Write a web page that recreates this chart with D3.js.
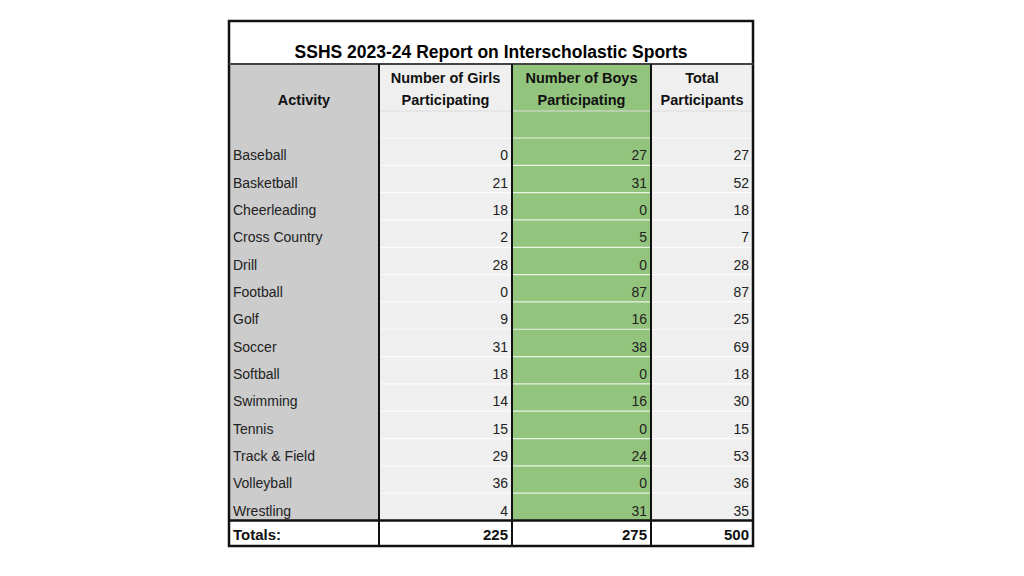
<!DOCTYPE html>
<html><head><meta charset="utf-8">
<script src="https://cdn.jsdelivr.net/npm/d3@7"></script>
<style>body{margin:0;background:#fff}svg{display:block}</style>
</head><body>
<script>
const title = "SSHS 2023-24 Report on Interscholastic Sports";
const headers = [["", "Activity"], ["Number of Girls", "Participating"], ["Number of Boys", "Participating"], ["Total", "Participants"]];
const activities = ["Baseball","Basketball","Cheerleading","Cross Country","Drill","Football","Golf","Soccer","Softball","Swimming","Tennis","Track & Field","Volleyball","Wrestling"];
const girls = [0,21,18,2,28,0,9,31,18,14,15,29,36,4];
const boys = [27,31,0,5,0,87,16,38,0,16,0,24,0,31];
const totals = [27,52,18,7,28,87,25,69,18,30,15,53,36,35];
const totalsRow = ["Totals:", 225, 275, 500];

const W=1024,H=576;
const svg=d3.select("body").append("svg").attr("width",W).attr("height",H);
const font="Liberation Sans, Arial, sans-serif";
const colEdges=[229,379,512,651,753];
const colX=d3.scaleOrdinal().domain([0,1,2,3]).range(colEdges.slice(0,4));
const colW=i=>colEdges[i+1]-colEdges[i];
const fills=["#cccccc","#efefef","#93c47d","#efefef"];
const y=d3.scaleLinear().domain([0,activities.length]).range([138,520.5]);

// body backgrounds (blank row + data rows)
[0,1,2,3].forEach(i=>{
  svg.append("rect").attr("x",colX(i)).attr("y",111).attr("width",colW(i)).attr("height",y(activities.length)-111).attr("fill",fills[i]);
  // header cells
  svg.append("rect").attr("x",colX(i)).attr("y",64).attr("width",colW(i)).attr("height",47).attr("fill",fills[i]);
});
// title row
svg.append("rect").attr("x",229).attr("y",21).attr("width",524).attr("height",43).attr("fill","#fff");
svg.append("text").attr("x",491).attr("y",58).attr("text-anchor","middle").attr("font-family",font).attr("font-weight","bold").attr("font-size",17.5).text(title);
// header text
headers.forEach((h,i)=>{
  const cx=colX(i)+colW(i)/2;
  h.forEach((t,j)=>{ if(t) svg.append("text").attr("x",cx).attr("y",83+j*22).attr("text-anchor","middle").attr("font-family",font).attr("font-weight","bold").attr("font-size",14.5).attr("fill","#111").text(t);});
});
// row grid lines in columns 1..3
d3.range(activities.length+1).forEach(r=>{
  [1,2,3].forEach(i=>{
    svg.append("line").attr("x1",colX(i)).attr("x2",colX(i)+colW(i)).attr("y1",y(r)).attr("y2",y(r)).attr("stroke","#ffffff").attr("stroke-width",1.2).attr("opacity",0.8);
  });
});
svg.append("line").attr("x1",379).attr("x2",753).attr("y1",111).attr("y2",111).attr("stroke","#ddd");
// data text
activities.forEach((a,r)=>{
  const ty=y(r+1)-5;
  svg.append("text").attr("x",233).attr("y",ty).attr("font-family",font).attr("font-size",14).attr("fill","#222").text(a);
  [girls[r],boys[r],totals[r]].forEach((v,k)=>{
    svg.append("text").attr("x",colEdges[k+2]-4).attr("y",ty).attr("text-anchor","end").attr("font-family",font).attr("font-size",14).attr("fill","#222").text(v);
  });
});
// totals row
svg.append("rect").attr("x",229).attr("y",521).attr("width",524).attr("height",25).attr("fill","#fff");
totalsRow.forEach((v,i)=>{
  const t=svg.append("text").attr("y",540).attr("font-family",font).attr("font-weight","bold").attr("font-size",15).attr("fill","#111").text(v);
  if(i===0) t.attr("x",233); else t.attr("x",colEdges[i+1]-4).attr("text-anchor","end");
});
// borders
const dark="#111";
svg.append("rect").attr("x",229).attr("y",21).attr("width",524).attr("height",525).attr("fill","none").attr("stroke",dark).attr("stroke-width",2.5);
svg.append("line").attr("x1",229).attr("x2",753).attr("y1",64).attr("y2",64).attr("stroke","#444").attr("stroke-width",2);
svg.append("line").attr("x1",229).attr("x2",753).attr("y1",520.5).attr("y2",520.5).attr("stroke",dark).attr("stroke-width",2.5);
[379,512,651].forEach(x=>svg.append("line").attr("x1",x).attr("x2",x).attr("y1",64).attr("y2",546).attr("stroke",dark).attr("stroke-width",2));
</script>
</body></html>
